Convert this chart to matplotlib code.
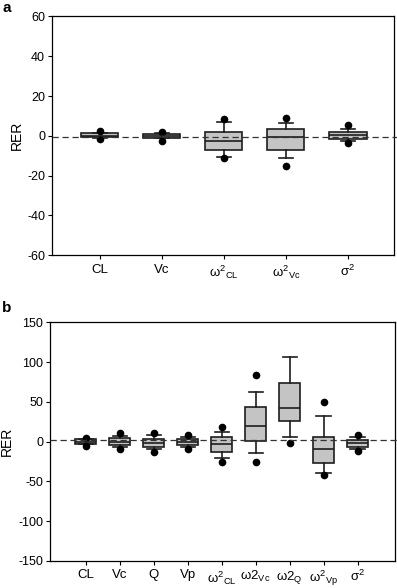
import matplotlib
matplotlib.use('Agg')
import matplotlib.pyplot as plt
import matplotlib.transforms as mtransforms

plt.rcParams['font.family'] = ['Liberation Sans', 'DejaVu Sans']
plt.rcParams['mathtext.fontset'] = 'custom'
plt.rcParams['mathtext.rm'] = 'Liberation Sans'
plt.rcParams['mathtext.it'] = 'Liberation Sans:italic'
plt.rcParams['axes.unicode_minus'] = False

# panel a data
labels_a = [r'CL', r'Vc', r'$\mathregular{ω^{2}{}_{CL}}$',
            r'$\mathregular{ω^{2}{}_{Vc}}$', r'$\mathregular{σ^{2}}$']
med_a = [0.0, -0.3, -2.8, -0.6, 0.6]
q1_a = [-0.7, -1.0, -7.3, -7.3, -1.8]
q3_a = [1.2, 0.9, 1.9, 3.6, 1.9]
whislo_a = [-0.9, -1.3, -10.5, -10.9, -2.6]
whishi_a = [1.5, 1.2, 6.8, 6.4, 3.6]
fliers_a = [[-1.5, 2.5], [-2.5, 2.0], [-11.2, 8.6], [-15.3, 9.1], [-3.4, 5.2]]
ref_a = -0.5

# panel b data
labels_b = [r'CL', r'Vc', r'Q', r'Vp', r'$\mathregular{ω^{2}{}_{CL}}$',
            r'$\mathregular{ω2_{Vc}}$', r'$\mathregular{ω2_{Q}}$',
            r'$\mathregular{ω^{2}{}_{Vp}}$', r'$\mathregular{σ^{2}}$']
med_b = [-1.0, 0.0, -2.0, -1.0, -3.6, 19.5, 41.7, -9.4, -2.3]
q1_b = [-2.7, -4.8, -7.3, -4.8, -13.6, 0.6, 25.4, -26.7, -7.3]
q3_b = [2.7, 4.8, 2.7, 2.7, 5.2, 43.8, 74.0, 6.0, 1.9]
whislo_b = [-3.5, -7.3, -9.8, -7.3, -21.0, -14.8, 5.2, -39.2, -9.4]
whishi_b = [3.5, 7.3, 8.2, 6.0, 11.6, 62.3, 106.0, 32.0, 5.2]
fliers_b = [[-5.0, 5.0], [-9.4, 10.3], [-12.8, 11.0], [-9.8, 8.2], [-26.0, 17.9],
            [-26.0, 84.0], [-2.3], [-41.8, 50.0], [-12.0, 8.2]]
ref_b = 2.0


def draw_panel(ax, labels, med, q1, q3, lo, hi, fliers, ref, width, capw, label_x):
    stats = []
    for i in range(len(labels)):
        stats.append(dict(med=med[i], q1=q1[i], q3=q3[i], whislo=lo[i],
                          whishi=hi[i], fliers=fliers[i], label=labels[i]))
    pos = list(range(1, len(labels) + 1))
    ax.bxp(stats, positions=pos, widths=width, capwidths=capw,
           patch_artist=True, showfliers=True,
           boxprops=dict(facecolor='#c4c4c4', edgecolor='#1e1e1e', linewidth=1.2),
           medianprops=dict(color='#1e1e1e', linewidth=1.2),
           whiskerprops=dict(color='#1e1e1e', linewidth=1.2),
           capprops=dict(color='#1e1e1e', linewidth=1.2),
           flierprops=dict(marker='o', markerfacecolor='black',
                           markeredgecolor='black', markersize=4.5))
    trans = ax.get_yaxis_transform()
    ax.plot([0, 1.03], [ref, ref], transform=trans, color='#333333',
            linestyle=(0, (5, 3)), linewidth=0.9, clip_on=False, zorder=5)
    ax.set_ylabel('RER', fontsize=10)
    lab_trans = mtransforms.blended_transform_factory(ax.figure.transFigure,
                                                      ax.transAxes)
    ax.yaxis.set_label_coords(label_x, 0.5, transform=lab_trans)
    ax.tick_params(axis='y', labelsize=9, direction='out', length=3,
                   width=0.8, colors='black', pad=2)
    ax.tick_params(axis='x', labelsize=9.5, direction='out', length=3,
                   width=0.8, colors='black', pad=3)
    for s in ax.spines.values():
        s.set_linewidth(0.9)


fig = plt.figure(figsize=(3.97, 5.88), dpi=100)

ax_a = fig.add_axes([0.131, 0.566, 0.861, 0.406])
draw_panel(ax_a, labels_a, med_a, q1_a, q3_a, whislo_a, whishi_a, fliers_a,
           ref_a, 0.6, 0.22, 0.06)
ax_a.set_ylim(-60, 60)
ax_a.set_yticks(range(-60, 61, 20))
ax_a.set_xlim(0.23, 5.74)

ax_b = fig.add_axes([0.126, 0.046, 0.869, 0.406])
draw_panel(ax_b, labels_b, med_b, q1_b, q3_b, whislo_b, whishi_b, fliers_b,
           ref_b, 0.63, 0.42, 0.034)
ax_b.set_ylim(-150, 150)
ax_b.set_yticks(range(-150, 151, 50))
ax_b.set_xlim(-0.05, 10.1)

fig.text(0.006, 0.998, 'a', fontsize=11, fontweight='bold', va='top')
fig.text(0.006, 0.488, 'b', fontsize=11, fontweight='bold', va='top')

fig.savefig('out.png', dpi=100)
